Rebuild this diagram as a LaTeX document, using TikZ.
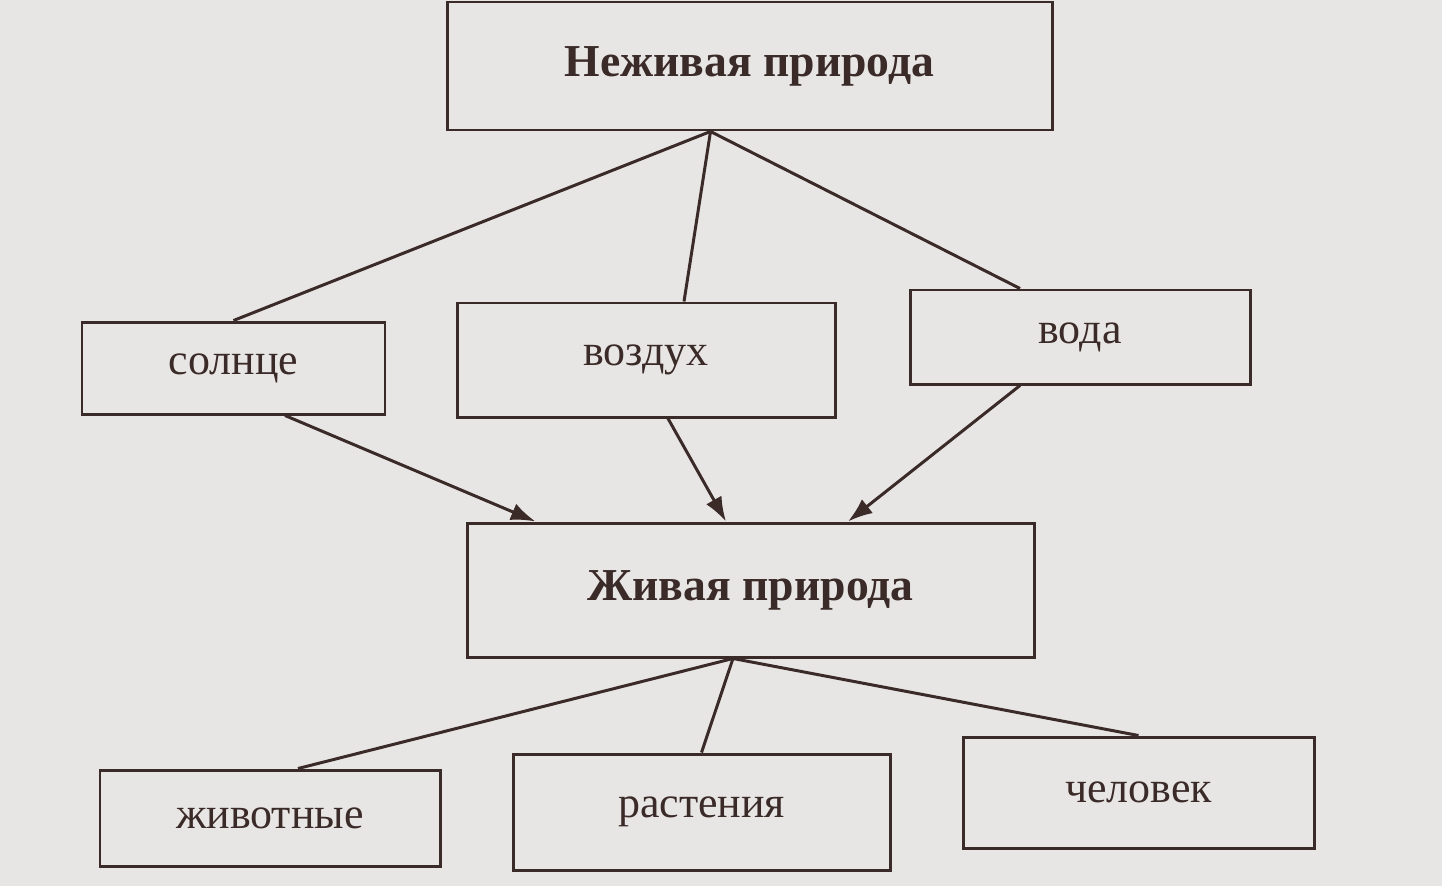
\documentclass[tikz,border=0pt]{standalone}
\usepackage{fontspec}
\setmainfont{Liberation Serif}
\usetikzlibrary{arrows.meta}
\definecolor{ink}{RGB}{58,42,40}
\definecolor{paper}{RGB}{232,230,228}
\begin{document}
\begin{tikzpicture}[line width=1.7pt, draw=ink, text=ink]
		\tikzset{box/.style={draw=ink, rectangle, inner sep=0pt, font=\fontsize{25}{30}\selectfont},
			link/.style={draw=ink, line width=1.7pt},
			arr/.style={link, -{Latex[length=14pt,width=10pt]}}}
		%Hintergrund
		\fill[paper] (0,0) rectangle (28.84,-17.72);
		\useasboundingbox (0,0) rectangle (28.84,-17.72);
		
		%Kaesten
		\node[box, minimum width=12.1cm, minimum height=2.56cm, font=\fontsize{26}{30}\selectfont\bfseries] (lifeless) at (14.99,-1.32) {Неживая природа};
		\node[box, minimum width=6.06cm, minimum height=1.84cm] (sun) at (4.67,-7.36) {солнце};
		\node[box, minimum width=7.56cm, minimum height=2.28cm] (air) at (12.92,-7.2) {воздух};
		\node[box, minimum width=6.8cm, minimum height=1.88cm] (water) at (21.6,-6.74) {вода};
		\node[box, minimum width=11.34cm, minimum height=2.68cm, font=\fontsize{26}{30}\selectfont\bfseries] (living) at (15.01,-11.8) {Живая природа};
		\node[box, minimum width=6.8cm, minimum height=1.92cm] (animals) at (5.4,-16.36) {животные};
		\node[box, minimum width=7.54cm, minimum height=2.32cm] (plants) at (14.03,-16.24) {растения};
		\node[box, minimum width=7.02cm, minimum height=2.22cm] (human) at (22.77,-15.85) {человек};
		
		%Linien
		\draw[link] ([xshift=-0.78cm]lifeless.south) -- (sun.north);
		\draw[link] ([xshift=-0.78cm]lifeless.south) -- ([xshift=0.76cm]air.north);
		\draw[link] ([xshift=-0.78cm]lifeless.south) -- ([xshift=-1.2cm]water.north);
		
		%Pfeile
		\draw[arr] ([xshift=1.03cm]sun.south) -- ([xshift=-4.3cm]living.north);
		\draw[arr] ([xshift=0.44cm]air.south) -- ([xshift=-0.49cm]living.north);
		\draw[arr] ([xshift=-1.2cm]water.south) -- ([xshift=1.95cm]living.north);
		
		\draw[link] ([xshift=-0.35cm]living.south) -- ([xshift=0.56cm]animals.north);
		\draw[link] ([xshift=-0.35cm]living.south) -- (plants.north);
		\draw[link] ([xshift=-0.35cm]living.south) -- (human.north);
	\end{tikzpicture}
\end{document}
